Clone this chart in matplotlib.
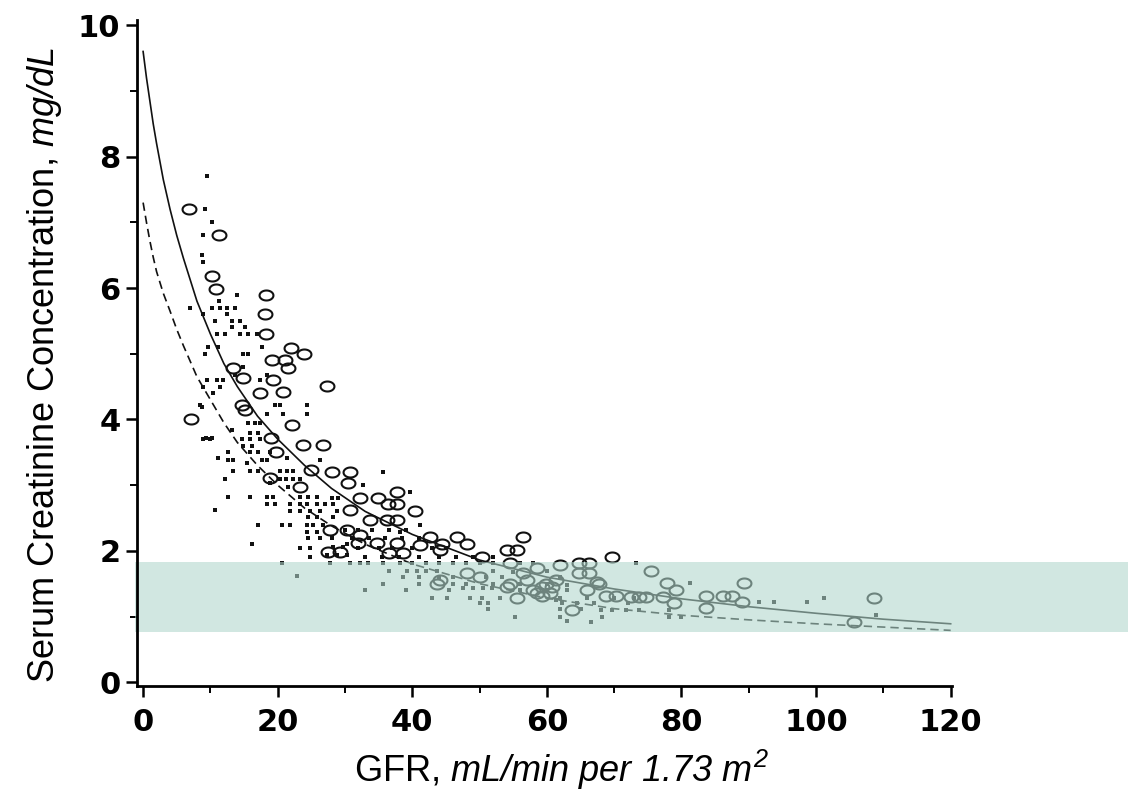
import numpy as np
import matplotlib.pyplot as plt
from matplotlib.path import Path
from matplotlib.patches import Rectangle

# curves (GFR -> creatinine)
curve_x = [0, 0.5, 1, 1.5, 2, 3, 4, 5, 6, 8, 10, 12, 14, 17, 20, 24, 28, 33, 40, 50, 60, 70, 80, 90, 100, 110, 120]
solid_y = [9.6, 9.2, 8.85, 8.5, 8.2, 7.65, 7.2, 6.8, 6.45, 5.8, 5.3, 4.85, 4.5, 4.05, 3.7, 3.3, 2.95, 2.6, 2.25,
           1.86, 1.6, 1.42, 1.27, 1.15, 1.05, 0.96, 0.89]
dashed_y = [7.3, 7.0, 6.72, 6.47, 6.25, 5.92, 5.65, 5.37, 5.12, 4.65, 4.3, 3.95, 3.65, 3.3, 3.0, 2.65, 2.38, 2.1, 1.8,
            1.5, 1.28, 1.12, 1.02, 0.95, 0.89, 0.84, 0.79]

# open circles
circle_x = [6.8, 11.3, 10.2, 10.8, 18.2, 18.1, 18.2, 22.0, 23.9, 21.1, 21.5, 19.1, 27.3, 13.4, 14.8,
            17.4, 19.3, 20.8, 7.1, 14.7, 15.1, 22.1, 19.0, 19.7, 23.7, 26.7, 18.8, 23.3, 24.9, 28.0,
            30.7, 30.4, 32.2, 34.9, 37.7, 36.4, 37.7, 40.4, 30.7, 36.2, 37.7, 27.7, 30.3, 32.2, 42.6,
            46.6, 31.9, 34.7, 37.7, 44.4, 48.1, 56.4, 54.0, 55.5, 50.4, 69.6, 36.6, 38.6, 27.4, 29.2,
            44.1, 41.1, 33.7,
            64.8, 66.3, 64.8, 66.3, 43.6, 54.5, 57.0, 59.3, 63.7, 67.5, 73.7, 58.5, 60.4, 48.1, 54.5,
            56.4, 75.5, 77.9, 89.3, 108.6, 83.7, 86.1, 87.5, 89.0, 83.7, 105.6, 79.2, 74.8, 77.2, 72.5,
            70.3, 67.8, 78.9, 58.5, 59.9, 61.4, 57.9, 59.3, 60.8, 54.0, 50.0, 44.1, 65.9, 55.5, 68.8,
            62.0]
circle_y = [7.20, 6.80, 6.19, 5.98, 5.89, 5.60, 5.30, 5.08, 4.99, 4.90, 4.78, 4.90, 4.51, 4.78, 4.63,
            4.40, 4.60, 4.41, 4.00, 4.22, 4.14, 3.91, 3.71, 3.50, 3.61, 3.61, 3.11, 2.97, 3.23, 3.20,
            3.20, 3.03, 2.80, 2.80, 2.89, 2.72, 2.72, 2.61, 2.62, 2.47, 2.47, 2.31, 2.31, 2.24, 2.21,
            2.21, 2.12, 2.12, 2.12, 2.10, 2.10, 2.21, 2.01, 2.01, 1.90, 1.90, 1.96, 1.96, 1.98, 1.98,
            2.02, 2.09, 2.47,
            1.81, 1.81, 1.67, 1.67, 1.50, 1.50, 1.55, 1.45, 1.10, 1.52, 1.30, 1.36, 1.36, 1.66, 1.81,
            1.66, 1.70, 1.51, 1.51, 1.29, 1.32, 1.32, 1.32, 1.22, 1.13, 0.91, 1.40, 1.30, 1.30, 1.30,
            1.32, 1.50, 1.20, 1.74, 1.50, 1.55, 1.40, 1.32, 1.45, 1.45, 1.60, 1.55, 1.40, 1.29, 1.32,
            1.78]

# small dots
dot_x = [9.5, 9.2, 10.2, 8.9, 8.8, 8.9,
         7.0, 10.2, 11.4, 12.4, 13.7, 11.3, 13.9, 8.9, 12.5, 10.7, 13.2, 14.4, 13.2, 15.1,
         11.0, 12.2, 14.4, 15.6, 16.9, 9.6, 11.1, 17.6, 9.2, 14.8, 15.6, 14.8, 9.5, 11.0, 11.9, 17.4, 18.4, 13.6,
         8.7, 9.4, 10.2, 11.1, 8.9, 10.4, 11.4, 20.3, 19.6, 24.3, 24.3, 18.4, 20.8, 8.5, 15.6, 16.6, 17.4,
         13.2, 15.9, 17.1, 8.9, 9.9, 14.7, 15.9, 17.4, 14.8, 16.2, 12.6, 15.9, 17.1, 18.8, 12.6, 13.4,
         17.7, 18.4, 21.4, 26.3, 15.4, 13.4, 15.9, 17.0, 20.3, 21.4, 22.3, 12.2, 20.3, 21.3, 22.3, 23.3,
         35.6, 18.8, 21.5, 32.6, 12.6, 15.9, 18.4, 19.3, 23.3, 24.5, 25.8, 28.0, 28.9, 39.6, 18.4, 19.6,
         21.8, 23.3, 24.3, 25.8, 27.0, 28.2, 10.7, 21.8, 23.3, 24.8, 26.3, 28.8, 24.5, 25.8, 28.2, 17.1,
         20.6, 21.8, 24.3, 25.2, 26.7, 41.1, 24.3, 25.8, 38.1, 16.2, 24.5, 26.3, 30.3, 23.3, 24.8, 28.2,
         29.7, 27.3, 28.8, 30.3, 24.8,
         30, 32, 34, 36.5, 39, 28, 31, 33.5, 36, 38.5, 41, 32, 35, 37, 40, 43, 45,
         33, 35.5, 38, 41, 44, 46.5, 49, 52,
         20.6, 27.7, 30.7, 32.2, 33.4, 35.6, 38.1, 40, 42, 44, 46, 48, 50, 52, 56, 58,
         36.6, 39.2, 40.7, 42.1, 43.6, 52, 55, 60,
         22.8, 38.6, 41, 44, 46, 51, 53.4, 62,
         35.6, 41, 46, 48, 52, 56, 60, 63,
         32.9, 39.1, 45.5, 47.5, 49, 50.5, 51.9, 56, 60, 63,
         42.9, 45.1, 48.5, 50.3, 53, 62, 66, 70, 73,
         50, 51.2, 61.4, 62.3, 64.5, 67, 72,
         51.2, 62, 65, 68, 69.7, 71.8, 73.7, 78.2,
         55.2, 62, 68.2, 78.2, 80,
         63, 66.6,
         73.3, 81.2, 91.5, 93.8, 98.7, 101.2, 108.9]
dot_y = [7.7, 7.2, 7.0, 6.8, 6.5, 6.4,
         5.7, 5.7, 5.7, 5.7, 5.7, 5.8, 5.9, 5.6, 5.6, 5.5, 5.5, 5.5, 5.4, 5.4,
         5.3, 5.3, 5.3, 5.3, 5.3, 5.1, 5.1, 5.1, 5.0, 5.0, 5.0, 4.8, 4.6, 4.6, 4.6, 4.6, 4.67, 4.67,
         4.19, 3.71, 3.71, 3.41, 4.49, 4.4, 4.49, 4.22, 4.22, 4.22, 4.09, 4.09, 4.09, 4.22, 3.94, 3.94, 3.94,
         3.84, 3.8, 3.8, 3.7, 3.7, 3.7, 3.7, 3.7, 3.6, 3.6, 3.5, 3.5, 3.5, 3.5, 3.39, 3.39,
         3.39, 3.39, 3.41, 3.39, 3.33, 3.22, 3.21, 3.21, 3.21, 3.21, 3.21, 3.1, 3.1, 3.1, 3.1, 3.1,
         3.2, 3.03, 2.97, 3.0, 2.82, 2.82, 2.82, 2.82, 2.82, 2.82, 2.82, 2.8, 2.8, 2.89, 2.71, 2.71,
         2.71, 2.71, 2.71, 2.71, 2.71, 2.71, 2.62, 2.6, 2.6, 2.6, 2.6, 2.6, 2.51, 2.51, 2.51, 2.4,
         2.4, 2.4, 2.4, 2.4, 2.4, 2.4, 2.28, 2.28, 2.28, 2.11, 2.2, 2.2, 2.11, 2.04, 2.04, 2.06,
         2.06, 1.93, 1.93, 1.93, 1.9,
         2.31, 2.31, 2.31, 2.31, 2.31, 2.19, 2.19, 2.19, 2.19, 2.19, 2.19, 2.04, 2.04, 2.04, 2.04, 2.04, 2.04,
         1.9, 1.9, 1.9, 1.9, 1.9, 1.9, 1.9, 1.9,
         1.81, 1.81, 1.81, 1.81, 1.81, 1.81, 1.81, 1.81, 1.81, 1.81, 1.81, 1.81, 1.81, 1.81, 1.81, 1.81,
         1.7, 1.7, 1.7, 1.7, 1.7, 1.7, 1.68, 1.7,
         1.61, 1.6, 1.6, 1.6, 1.6, 1.6, 1.6, 1.6,
         1.5, 1.5, 1.5, 1.5, 1.5, 1.5, 1.5, 1.48,
         1.4, 1.4, 1.4, 1.43, 1.43, 1.43, 1.43, 1.4, 1.4, 1.4,
         1.29, 1.29, 1.29, 1.29, 1.29, 1.29, 1.29, 1.29, 1.29,
         1.2, 1.2, 1.25, 1.2, 1.2, 1.2, 1.2,
         1.11, 1.11, 1.11, 1.1, 1.1, 1.1, 1.1, 1.1,
         1.0, 1.0, 1.0, 1.0, 1.0,
         0.93, 0.91,
         1.81, 1.51, 1.22, 1.22, 1.22, 1.29, 1.02]

# normal range band
band_lo, band_hi = 0.76, 1.83

plt.rcParams['mathtext.fontset'] = 'custom'
plt.rcParams['mathtext.rm'] = 'Liberation Sans:italic'
plt.rcParams['mathtext.it'] = 'Liberation Sans:italic'

fig = plt.figure(figsize=(11.28, 7.97), dpi=100)
ax = fig.add_axes([0.1215, 0.139, 0.7225, 0.836])

t = np.linspace(0, 2 * np.pi, 41)
oval = Path(np.c_[np.cos(t), 0.72 * np.sin(t)], closed=True)
dash = Path([(-1, -0.65), (1, -0.65), (1, 0.65), (-1, 0.65), (-1, -0.65)], closed=True)

ax.plot(dot_x, dot_y, ls='none', marker=dash, ms=3.5, color='#111111', mew=0, zorder=2)
ax.plot(circle_x, circle_y, ls='none', marker=oval, ms=10, mfc='none', mec='#111111', mew=1.5, zorder=2)
ax.plot(curve_x, solid_y, color='#111111', lw=1.2, zorder=2)
ax.plot(curve_x, dashed_y, color='#111111', lw=1.2, ls=(0, (5, 3)), zorder=2)

ax.add_patch(Rectangle((-0.003, band_lo), 1.22, band_hi - band_lo, transform=ax.get_yaxis_transform(),
                       facecolor=(0.69, 0.845, 0.80), alpha=0.58, lw=0, clip_on=False, zorder=3))

ax.set_xlim(-0.9, 120.2)
ax.set_ylim(-0.06, 10.08)
ax.set_xticks(range(0, 121, 20))
ax.set_xticks(range(10, 120, 20), minor=True)
ax.set_yticks(range(0, 11, 2))
ax.set_yticks(range(1, 10, 2), minor=True)
ax.tick_params(which='major', length=8, width=1.8, labelsize=22, pad=4)
ax.tick_params(which='minor', length=5, width=1.4)
ax.tick_params(axis='x', pad=8)
plt.setp(ax.get_xticklabels() + ax.get_yticklabels(), fontweight='bold', family='DejaVu Sans')

for side in ['top', 'right']:
    ax.spines[side].set_visible(False)
for side in ['left', 'bottom']:
    ax.spines[side].set_linewidth(2)
    ax.spines[side].set_zorder(4)

fig.text(561 / 1128, 1 - 770 / 797, r'GFR, $mL/min\ per\ 1.73\ m^2$',
         fontsize=26, family='Liberation Sans', ha='center', va='center')
fig.text(45 / 1128, 1 - 365 / 797, r'Serum Creatinine Concentration, $mg/dL$',
         fontsize=26, family='Liberation Sans', rotation=90, ha='center', va='center')

fig.savefig('out.png', dpi=100)
